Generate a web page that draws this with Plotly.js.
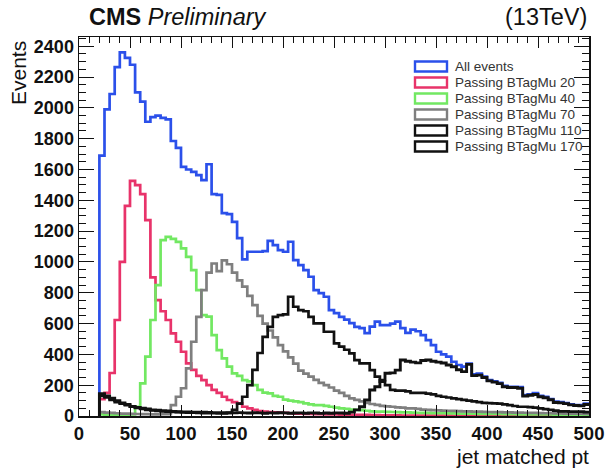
<!DOCTYPE html>
<html>
<head>
<meta charset="utf-8">
<script src="https://cdn.plot.ly/plotly-3.0.1.min.js"></script>
<style>
html,body{margin:0;padding:0;background:#fff;}
#chart{width:606px;height:471px;}
</style>
</head>
<body>
<div id="chart"></div>
<script>
// Histogram binning: first bin starts at 20 GeV, 5 GeV wide, last bin ends at 500
const binStart = 20;
const binWidth = 5;

const seriesNames = ["All events", "Passing BTagMu 20", "Passing BTagMu 40", "Passing BTagMu 70", "Passing BTagMu 110", "Passing BTagMu 170"];

const allEvents = [
  1690,1990,2090,2265,2360,2325,2280,2100,2040,1910,
  1940,1950,1935,1925,1785,1740,1617,1600,1585,1563,
  1531,1634,1440,1435,1317,1310,1260,1155,1016,1066,
  1066,1066,1070,1137,1109,1077,1066,1131,1012,979,
  947,904,817,797,774,687,668,644,625,603,
  579,570,538,580,612,590,590,600,612,570,
  540,560,550,525,493,460,417,400,385,352,
  331,320,340,270,275,255,233,225,215,195,
  190,190,188,136,140,149,130,125,110,93,
  90,84,75,71,70,80
];

const btag20 = [
  110,150,279,623,1001,1364,1526,1498,1440,1271,
  900,752,680,623,536,482,417,342,300,260,
  233,200,170,150,125,104,90,82,60,50,
  40,32,28,26,24,22,20,18,16,15,
  14,13,12,12,11,10,10,9,9,8,
  8,7,7,6,6,5,5,4,4,3,
  3,3,3,2,2,2,2,2,2,1,
  1,1,1,1,1,1,1,1,1,1,
  1,1,1,0,0,0,0,0,0,0,
  0,0,0,0,0,0
];

const btag40 = [
  10,8,6,5,5,6,10,60,212,385,
  623,850,1142,1163,1150,1130,1088,1033,947,817,
  655,645,525,428,374,320,277,260,233,225,
  200,169,152,147,130,125,106,100,95,90,
  82,75,71,70,66,60,55,50,47,42,
  40,38,34,30,29,28,27,26,25,24,
  24,22,21,20,20,19,18,18,17,17,
  16,16,15,15,14,14,13,13,13,12,
  12,12,11,11,11,10,10,10,10,9,
  9,9,9,8,8,8
];

const btag70 = [
  25,22,20,18,16,15,14,13,12,12,
  11,11,12,12,70,125,180,309,482,644,
  817,930,990,940,1010,985,930,880,840,780,
  720,650,600,555,510,460,420,380,340,295,
  275,255,235,215,200,185,165,150,130,115,
  105,95,85,78,72,66,62,60,56,55,
  50,50,46,42,40,38,36,35,34,33,
  32,30,30,29,28,27,26,25,25,24,
  23,22,22,21,20,20,19,18,18,17,
  17,16,16,15,15,14
];

const btag110 = [
  130,120,105,90,80,70,60,52,46,40,
  36,33,30,28,26,25,23,22,21,20,
  19,18,18,17,17,20,40,80,125,200,
  300,409,514,579,644,655,660,774,709,687,
  680,644,601,601,547,547,471,450,430,407,
  363,342,342,298,255,223,201,169,165,165,
  160,150,150,150,145,140,130,125,120,115,
  110,105,100,95,90,85,84,82,80,75,
  70,65,60,60,58,55,50,45,40,35,
  30,30,28,28,28,25
];

const btag170 = [
  145,130,115,100,85,75,62,55,50,45,
  40,38,35,32,30,28,27,26,25,24,
  24,23,22,22,21,21,20,22,20,19,
  21,20,18,20,19,21,20,18,19,20,
  18,20,19,17,19,18,20,19,18,25,
  40,60,104,169,190,233,277,280,298,363,
  355,350,345,360,363,355,350,344,331,320,
  300,288,335,262,265,250,228,220,210,190,
  185,185,180,130,135,140,125,118,105,88,
  85,80,72,68,66,75
];

const seriesValues = [allEvents, btag20, btag40, btag70, btag110, btag170];
const seriesColors = ["#2b50ea", "#e8336a", "#72e862", "#7f7f7f", "#111111", "#111111"];
const seriesWidths = [2.7, 2.7, 2.7, 2.7, 2.7, 2.9];

// axis tick labels
const xTickVals = [0,50,100,150,200,250,300,350,400,450,500];
const yTickVals = [0,200,400,600,800,1000,1200,1400,1600,1800,2000,2200,2400];

function stepTrace(vals, color, width, name) {
  const xs = [binStart];
  const ys = [0];
  for (let i = 0; i < vals.length; i++) {
    xs.push(binStart + i * binWidth);
    ys.push(vals[i]);
  }
  xs.push(binStart + vals.length * binWidth);
  ys.push(vals[vals.length - 1]);
  return {
    type: 'scatter', mode: 'lines', x: xs, y: ys, name: name,
    line: {shape: 'hv', color: color, width: width},
    showlegend: false, hoverinfo: 'skip'
  };
}

const traces = seriesValues.map((v, i) => stepTrace(v, seriesColors[i], seriesWidths[i], seriesNames[i]));

// plot area geometry in pixels (for paper-coordinate conversions)
const L = 79, R = 589, T = 37, B = 416, W = 606, H = 471;
const px2x = p => (p - L) / (R - L);
const py2y = p => (B - p) / (B - T);

const FONT = "Liberation Sans, Arial, Helvetica, sans-serif";

const shapes = [];
const annotations = [];
seriesNames.forEach((nm, i) => {
  const cy = 66.5 + 16 * i;
  shapes.push({
    type: 'rect', xref: 'paper', yref: 'paper',
    x0: px2x(415), x1: px2x(447), y0: py2y(cy + 5), y1: py2y(cy - 5),
    line: {color: seriesColors[i], width: 2.4}, fillcolor: 'rgba(0,0,0,0)'
  });
  annotations.push({
    xref: 'paper', yref: 'paper', x: px2x(453), y: py2y(cy),
    xanchor: 'left', yanchor: 'middle', showarrow: false,
    text: nm, font: {family: FONT, size: 13.5, color: '#333'}
  });
});

annotations.push({
  xref: 'paper', yref: 'paper', x: px2x(87), y: py2y(17),
  xanchor: 'left', yanchor: 'middle', showarrow: false,
  text: '<b>CMS</b> <i>Preliminary</i>', font: {family: FONT, size: 23.5, color: '#111'}
});
annotations.push({
  xref: 'paper', yref: 'paper', x: px2x(589), y: py2y(17),
  xanchor: 'right', yanchor: 'middle', showarrow: false,
  text: '(13TeV)', font: {family: FONT, size: 23.5, color: '#111'}
});
annotations.push({
  xref: 'paper', yref: 'paper', x: px2x(19), y: py2y(39),
  xanchor: 'center', yanchor: 'top', showarrow: false, textangle: -90,
  text: 'Events', font: {family: FONT, size: 21, color: '#111'}
});
annotations.push({
  xref: 'paper', yref: 'paper', x: px2x(591), y: py2y(456),
  xanchor: 'right', yanchor: 'middle', showarrow: false,
  text: 'jet matched pt', font: {family: FONT, size: 21, color: '#111'}
});

const layout = {
  width: W, height: H,
  margin: {l: L, r: W - R, t: T, b: H - B, pad: 0},
  paper_bgcolor: '#fff', plot_bgcolor: '#fff',
  showlegend: false,
  xaxis: {
    range: [0, 500], tickvals: xTickVals, ticktext: xTickVals.map(String),
    ticks: 'inside', ticklen: 11, tickwidth: 1, tickcolor: '#111',
    minor: {dtick: 10, ticks: 'inside', ticklen: 6, tickwidth: 1, tickcolor: '#111', showgrid: false},
    showline: true, linecolor: '#111', linewidth: 1.5, mirror: 'ticks',
    showgrid: false, zeroline: false,
    tickfont: {family: FONT, size: 18.5, color: '#111', weight: 'bold'}
  },
  yaxis: {
    range: [0, 2460], tickvals: yTickVals, ticktext: yTickVals.map(String),
    ticks: 'inside', ticklen: 15, tickwidth: 1, tickcolor: '#111',
    minor: {dtick: 50, ticks: 'inside', ticklen: 7, tickwidth: 1, tickcolor: '#111', showgrid: false},
    showline: true, linecolor: '#111', linewidth: 1.5, mirror: 'ticks',
    showgrid: false, zeroline: false,
    tickfont: {family: FONT, size: 18, color: '#111', weight: 'bold'}
  },
  shapes: shapes,
  annotations: annotations
};

Plotly.newPlot('chart', traces, layout, {staticPlot: true, displayModeBar: false});
</script>
</body>
</html>
